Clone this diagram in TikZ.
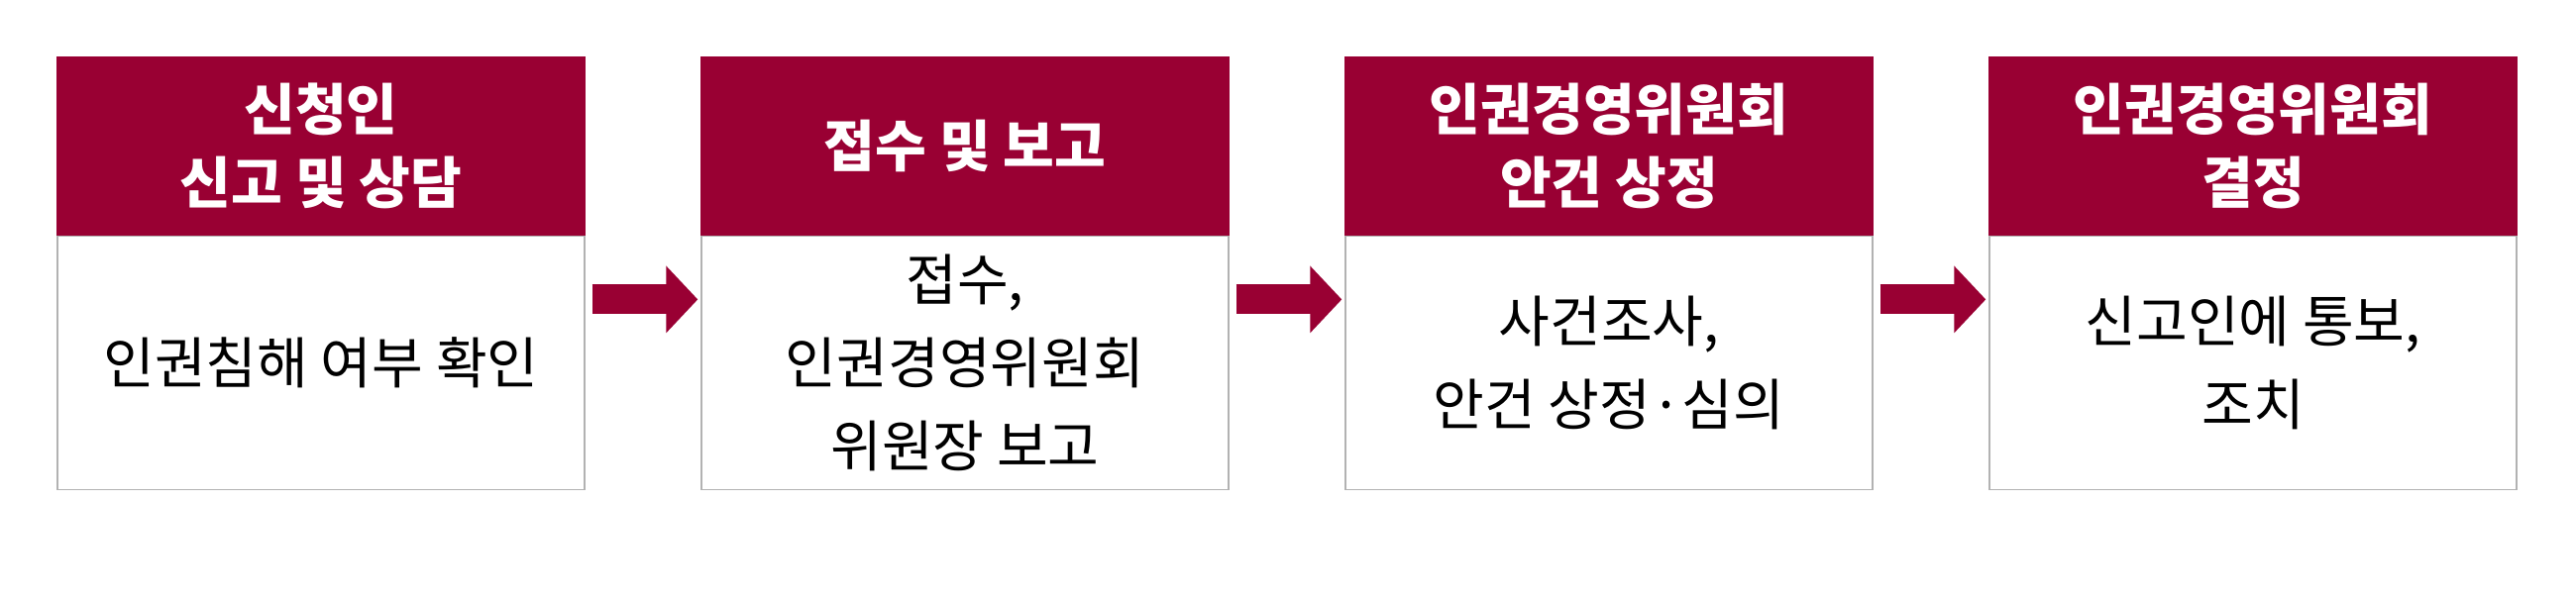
\documentclass[tikz,border=0pt]{standalone}
\usepackage{fontspec}
\setmainfont{Noto Sans CJK KR}
\usetikzlibrary{arrows.meta,positioning}
\definecolor{wine}{HTML}{990033}
\tikzset{
  head/.style={fill=wine,draw=wine,text=white,minimum width=5.32cm,minimum height=1.79cm,
    align=center,inner sep=0pt,font=\fontsize{16}{21}\selectfont\bfseries},
  body/.style={draw=black!30,fill=white,minimum width=5.32cm,minimum height=2.56cm,
    align=center,inner sep=0pt,font=\fontsize{16}{24}\selectfont},
  flow/.style={wine,line width=0.3cm,-{Triangle[length=0.32cm,width=0.66cm]}}
}
\begin{document}
\begin{tikzpicture}
\useasboundingbox (0,0) rectangle (26,6.08);
% header boxes
\node[head] (h1) at (3.24,4.605) {신청인\\신고 및 상담};
\node[head] (h2) at (9.74,4.605) {접수 및 보고};
\node[head] (h3) at (16.24,4.605) {인권경영위원회\\안건 상정};
\node[head] (h4) at (22.74,4.605) {인권경영위원회\\결정};
% body boxes
\node[body,below=0pt of h1] (b1) {인권침해 여부 확인};
\node[body,below=0pt of h2] (b2) {접수,\\인권경영위원회\\위원장 보고};
\node[body,below=0pt of h3] (b3) {사건조사,\\안건 상정·심의};
\node[body,below=0pt of h4] (b4) {신고인에 통보,\\조치};
% arrows
\foreach \a/\b in {b1/b2,b2/b3,b3/b4}
  \draw[flow] ([xshift=0.07cm,yshift=0.64cm]\a.east) -- ([xshift=-0.03cm,yshift=0.64cm]\b.west);
\end{tikzpicture}
\end{document}
